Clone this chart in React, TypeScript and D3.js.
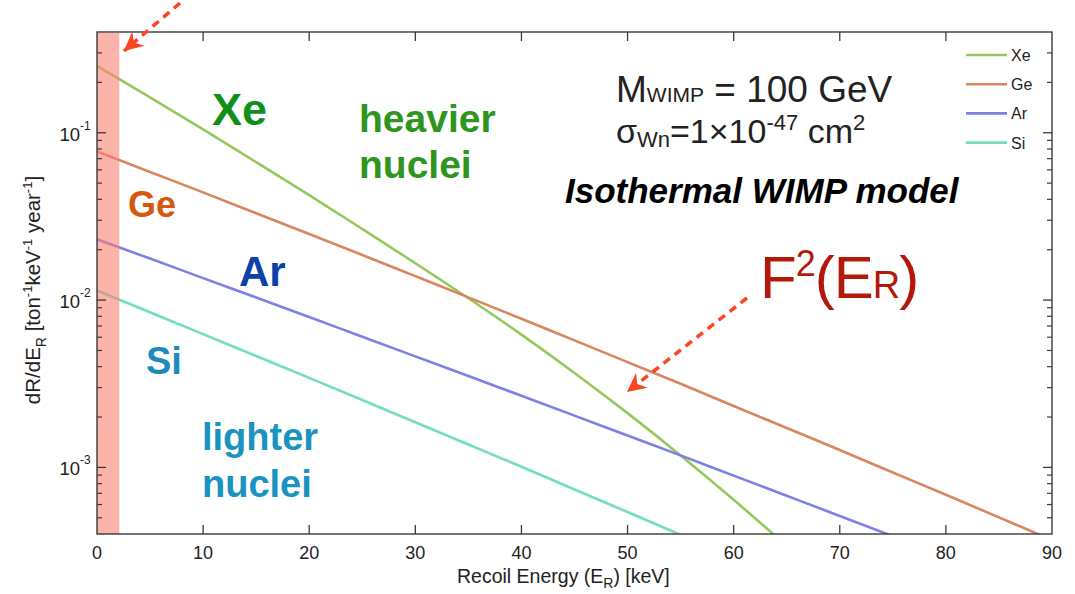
import React from "react";
import * as d3 from "d3";

// Recoil energies (keV) at which the differential rates are tabulated
const energyKeV = [0, 5, 10, 15, 20, 25, 30, 35, 40, 45, 50, 55, 60, 65, 70, 75, 80, 85, 90];

// dR/dE_R [ton^-1 keV^-1 year^-1] for M_WIMP = 100 GeV, sigma = 1e-47 cm^2
const xeRate = [0.251, 0.1626, 0.1046, 0.0668, 0.0424, 0.0266, 0.0166, 0.01025, 0.00622, 0.00367, 0.00211, 0.00118, 0.000641, 0.000339];
const geRate = [0.0773, 0.0583, 0.044, 0.033, 0.0248, 0.0186, 0.0139, 0.01038, 0.00773, 0.00574, 0.00426, 0.00316, 0.00233, 0.00172, 0.00127, 0.000933, 0.000686, 0.000503, 0.000368];
const arRate = [0.02307, 0.0177, 0.01353, 0.01037, 0.00792, 0.00604, 0.00461, 0.00352, 0.00268, 0.00204, 0.00155, 0.00118, 0.000893, 0.000677, 0.000513, 0.000388];
const siRate = [0.0114, 0.00845, 0.00626, 0.00463, 0.00343, 0.00253, 0.00186, 0.00137, 0.00101, 0.000738, 0.000541, 0.000395, 0.000288];

const targets = ["Xe", "Ge", "Ar", "Si"];
const targetRates = [xeRate, geRate, arRate, siRate];
const targetColors = ["#93c95c", "#d9855f", "#7d80e4", "#74dfb6"];

// Detector threshold region (keV)
const thresholdKeV = 2.1;

const xTicks = [0, 10, 20, 30, 40, 50, 60, 70, 80, 90];
const yDecades = [-3, -2, -1];

const W = 1075;
const H = 594;
const plot = { left: 97, right: 1052, top: 32, bottom: 534 };
const FONT = "'Liberation Sans', Arial, Helvetica, sans-serif";

export default function App() {
  const x = d3.scaleLinear().domain([0, 90]).range([plot.left, plot.right]);
  const y = d3.scaleLog().domain([4e-4, 0.4]).range([plot.bottom, plot.top]);

  const line = d3
    .line<number>()
    .x((_, i) => x(energyKeV[i]))
    .y((d) => y(d))
    .curve(d3.curveMonotoneX);

  // minor log ticks 2..9 x 10^k inside the domain
  const minorTicks: number[] = [];
  for (let k = -4; k <= -1; k++) {
    for (let m = 2; m <= 9; m++) {
      const v = m * Math.pow(10, k);
      if (v > 4e-4 && v < 0.4) minorTicks.push(v);
    }
  }

  const axisColor = "#3a3a3a";
  const arrowColor = "#ff4424";

  return (
    <svg
      width={W}
      height={H}
      viewBox={`0 0 ${W} ${H}`}
      style={{ position: "absolute", left: 0, top: 0, background: "#fff" }}
      fontFamily={FONT}
    >
      <defs>
        <clipPath id="plotClip">
          <rect x={plot.left} y={plot.top} width={plot.right - plot.left} height={plot.bottom - plot.top} />
        </clipPath>
        <marker id="arrowHead" viewBox="-20 -11 22 22" refX="0" refY="0" markerWidth="22" markerHeight="22" markerUnits="userSpaceOnUse" orient="auto">
          <path d="M0,0 L-19,-9.5 L-13,0 L-19,9.5 Z" fill={arrowColor} />
        </marker>
      </defs>

      {/* rate curves */}
      <g clipPath="url(#plotClip)">
        {targetRates.map((rates, i) => (
          <path key={targets[i]} d={line(rates) || ""} fill="none" stroke={targetColors[i]} strokeWidth={2.6} />
        ))}
      </g>

      {/* threshold band */}
      <rect
        x={x(0)}
        y={plot.top + 1}
        width={x(thresholdKeV) - x(0)}
        height={plot.bottom - plot.top - 1}
        fill="#fa8072"
        opacity={0.6}
      />

      {/* frame */}
      <rect
        x={plot.left}
        y={plot.top}
        width={plot.right - plot.left}
        height={plot.bottom - plot.top}
        fill="none"
        stroke={axisColor}
        strokeWidth={1.4}
      />

      {/* x ticks, bottom and top, pointing inward */}
      {xTicks.slice(1, -1).map((t) => (
        <g key={`xt${t}`} stroke={axisColor} strokeWidth={1.3}>
          <line x1={x(t)} x2={x(t)} y1={plot.bottom} y2={plot.bottom - 9} />
          <line x1={x(t)} x2={x(t)} y1={plot.top} y2={plot.top + 9} />
        </g>
      ))}
      {xTicks.map((t) => (
        <text key={`xl${t}`} x={x(t)} y={559} textAnchor="middle" fontSize={18} fill="#222">
          {t}
        </text>
      ))}

      {/* y ticks, left and right */}
      {yDecades.map((k) => {
        const v = Math.pow(10, k);
        return (
          <g key={`yd${k}`}>
            <g stroke={axisColor} strokeWidth={1.3}>
              <line x1={plot.left} x2={plot.left + 9} y1={y(v)} y2={y(v)} />
              <line x1={plot.right} x2={plot.right - 9} y1={y(v)} y2={y(v)} />
            </g>
            <text x={80} y={y(v) + 8} textAnchor="end" fontSize={18.5} fill="#222">
              10
            </text>
            <text x={80} y={y(v) - 3} textAnchor="start" fontSize={12} fill="#222">
              {String(k)}
            </text>
          </g>
        );
      })}
      {minorTicks.map((v) => (
        <g key={`ym${v}`} stroke={axisColor} strokeWidth={1.2}>
          <line x1={plot.left} x2={plot.left + 5} y1={y(v)} y2={y(v)} />
          <line x1={plot.right} x2={plot.right - 5} y1={y(v)} y2={y(v)} />
        </g>
      ))}

      {/* axis titles */}
      <text x={457} y={583} fontSize={19.5} fill="#222">
        Recoil Energy (E<tspan fontSize={14} dy={5}>R</tspan>
        <tspan dy={-5}>) [keV]</tspan>
      </text>
      <text transform="translate(40,290) rotate(-90)" textAnchor="middle" fontSize={20.5} fill="#222">
        dR/dE<tspan fontSize={14} dy={6}>R</tspan>
        <tspan dy={-6}> [ton</tspan>
        <tspan fontSize={13} dy={-8}>-1</tspan>
        <tspan dy={8}>keV</tspan>
        <tspan fontSize={13} dy={-8}>-1</tspan>
        <tspan dy={8}> year</tspan>
        <tspan fontSize={13} dy={-8}>-1</tspan>
        <tspan dy={8}>]</tspan>
      </text>

      {/* legend */}
      {targets.map((name, i) => {
        const ly = 55 + i * 29.2;
        return (
          <g key={`lg${name}`}>
            <line x1={966} x2={1007} y1={ly} y2={ly} stroke={targetColors[i]} strokeWidth={2.6} />
            <text x={1011} y={ly + 6} fontSize={16} fill="#222">
              {name}
            </text>
          </g>
        );
      })}

      {/* target labels */}
      <text x={212} y={125} fontSize={45} fontWeight="bold" fill="#10901a">Xe</text>
      <text x={128} y={217} fontSize={36} fontWeight="bold" fill="#d6580f">Ge</text>
      <text x={239} y={286} fontSize={42} fontWeight="bold" fill="#0b41a8">Ar</text>
      <text x={146} y={374} fontSize={38} fontWeight="bold" fill="#1a8bbd">Si</text>
      <text fontSize={39} fontWeight="bold" fill="#2e951e">
        <tspan x={359} y={132}>heavier</tspan>
        <tspan x={359} y={178}>nuclei</tspan>
      </text>
      <text fontSize={38} fontWeight="bold" fill="#1a93c0">
        <tspan x={202} y={450}>lighter</tspan>
        <tspan x={202} y={497}>nuclei</tspan>
      </text>

      {/* model parameters */}
      <text x={616} y={102} fontSize={37} fill="#222">
        M<tspan fontSize={21}>WIMP</tspan>
        <tspan> = 100 GeV</tspan>
      </text>
      <text x={616} y={143} fontSize={34} fill="#222">
        σ<tspan fontSize={22} dy={4}>Wn</tspan>
        <tspan dy={-4}>=1×10</tspan>
        <tspan fontSize={22} dy={-13}>-47</tspan>
        <tspan dy={13}> cm</tspan>
        <tspan fontSize={22} dy={-13}>2</tspan>
      </text>
      <text x={565} y={203} fontSize={35} fontWeight="bold" fontStyle="italic" fill="#000">
        Isothermal WIMP model
      </text>

      {/* form factor annotation */}
      <text x={760} y={298} fontSize={60} fill="#b3180b" letterSpacing={-1}>
        F<tspan fontSize={36} dy={-22}>2</tspan>
        <tspan dy={22}>(E</tspan>
        <tspan fontSize={38}>R</tspan>
        <tspan>)</tspan>
      </text>

      {/* dashed pointer arrows */}
      <line x1={180} y1={3} x2={124} y2={51} stroke={arrowColor} strokeWidth={3.5} strokeDasharray="8 6" markerEnd="url(#arrowHead)" />
      <line x1={747} y1={298} x2={627} y2={392} stroke={arrowColor} strokeWidth={3.5} strokeDasharray="8 6" markerEnd="url(#arrowHead)" />
    </svg>
  );
}
